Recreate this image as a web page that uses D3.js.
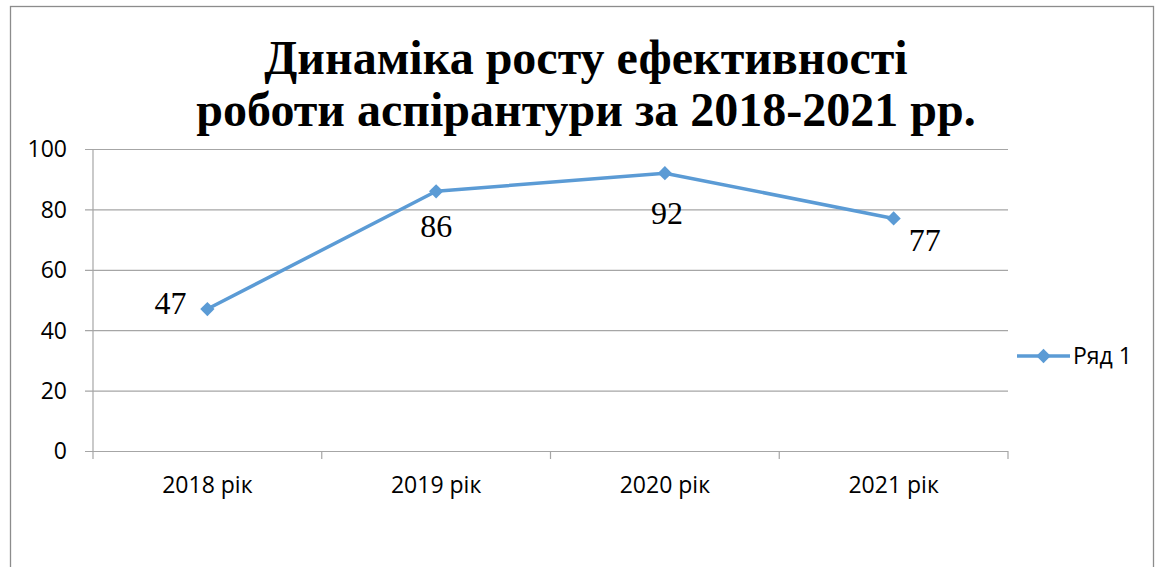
<!DOCTYPE html>
<html>
  <head>
    <meta charset="utf-8">
    <style>
      body { margin: 0; background: #fff; }
      svg { display: block; }
      .title { font: bold 48px "Liberation Serif", "Times New Roman", serif; text-anchor: middle; fill: #000; }
      .tick-label { font: 23px "Open Sans", sans-serif; fill: #000; }
      .data-label { font: 32px "Liberation Serif", "Times New Roman", serif; fill: #000; text-anchor: middle; }
      .grid line { stroke: #a6a6a6; stroke-width: 1.2; }
      .series { fill: none; stroke: #5b9bd5; stroke-width: 3.5; stroke-linejoin: round; }
    </style>
  </head>
  <body>
    <script src="https://d3js.org/d3.v7.min.js"></script>
    <svg></svg>
    <script>
      // chart data
      const titleLines = ["Динаміка росту ефективності", "роботи аспірантури за 2018-2021 рр."];
      const categories = ["2018 рік", "2019 рік", "2020 рік", "2021 рік"];
      const values = [47, 86, 92, 77];
      const yTicks = [0, 20, 40, 60, 80, 100];
      const seriesName = "Ряд 1";

      const W = 1167, H = 567;
      const plot = { left: 93, right: 1008, top: 149, bottom: 451 };

      const svg = d3.select("svg").attr("width", W).attr("height", H);

      // outer chart border
      svg.append("rect")
        .attr("x", 10.5).attr("y", 6.5)
        .attr("width", 1143).attr("height", 600)
        .attr("fill", "#fff")
        .attr("stroke", "#8c8c8c")
        .attr("stroke-width", 1.3);

      // title, two lines
      svg.selectAll(".title")
        .data(titleLines)
        .enter()
        .append("text")
        .attr("class", "title")
        .attr("x", 586)
        .attr("y", (d, i) => 74 + i * 52)
        .text(d => d);

      const x = d3.scaleBand().domain(categories).range([plot.left, plot.right]).padding(0);
      const y = d3.scaleLinear().domain([0, 100]).range([plot.bottom, plot.top]);

      // gridlines + y tick marks + labels (axis placed on the right edge, ticks run left)
      const tickLen = plot.right - plot.left + 8;
      const yAxis = svg.append("g")
        .attr("class", "grid")
        .attr("transform", `translate(${plot.right},0)`)
        .call(d3.axisLeft(y).tickValues(yTicks).tickSize(tickLen).tickPadding(18));
      yAxis.select(".domain").remove();
      yAxis.selectAll("text").attr("class", "tick-label").attr("fill", null).attr("dy", "0.34em");

      // vertical axis line
      svg.append("line")
        .attr("x1", plot.left).attr("x2", plot.left)
        .attr("y1", plot.top).attr("y2", plot.bottom + 8)
        .attr("stroke", "#a6a6a6").attr("stroke-width", 1.2);

      // category boundary ticks
      const bounds = categories.map(c => x(c)).concat([plot.right]);
      svg.selectAll(".xtick")
        .data(bounds.slice(1))
        .enter()
        .append("line")
        .attr("x1", d => d).attr("x2", d => d)
        .attr("y1", plot.bottom).attr("y2", plot.bottom + 8)
        .attr("stroke", "#a6a6a6").attr("stroke-width", 1.2);

      // category labels
      const xAxis = svg.append("g")
        .attr("transform", `translate(0,${plot.bottom})`)
        .call(d3.axisBottom(x).tickSize(0).tickPadding(26));
      xAxis.select(".domain").remove();
      xAxis.selectAll("text").attr("class", "tick-label").attr("fill", null);

      // series line
      const cx = (d, i) => x(categories[i]) + x.bandwidth() / 2;
      const line = d3.line().x(cx).y(d => y(d));
      svg.append("path").datum(values).attr("class", "series").attr("d", line);

      // diamond markers
      const diamond = d3.symbol().type(d3.symbolDiamond2).size(130);
      svg.selectAll(".marker")
        .data(values)
        .enter()
        .append("path")
        .attr("d", diamond)
        .attr("transform", (d, i) => `translate(${cx(d, i)},${y(d)})`)
        .attr("fill", "#5b9bd5");

      // data labels (placement as in the original)
      const labelOffsets = [[-37, -6], [0, 35], [2, 40], [31, 21]];
      svg.selectAll(".data-label")
        .data(values)
        .enter()
        .append("text")
        .attr("class", "data-label")
        .attr("x", (d, i) => cx(d, i) + labelOffsets[i][0])
        .attr("y", (d, i) => y(d) + labelOffsets[i][1])
        .attr("dy", "0.35em")
        .text(d => d);

      // legend
      const lg = svg.append("g").attr("transform", "translate(1017,356)");
      lg.append("line").attr("x1", 0).attr("x2", 53).attr("y1", 0).attr("y2", 0)
        .attr("stroke", "#5b9bd5").attr("stroke-width", 3.5);
      lg.append("path").attr("d", diamond).attr("transform", "translate(26.5,0)").attr("fill", "#5b9bd5");
      lg.append("text").attr("class", "tick-label")
        .attr("x", 56).attr("y", 0).attr("dy", "0.35em")
        .text(seriesName);
    </script>
  </body>
</html>
